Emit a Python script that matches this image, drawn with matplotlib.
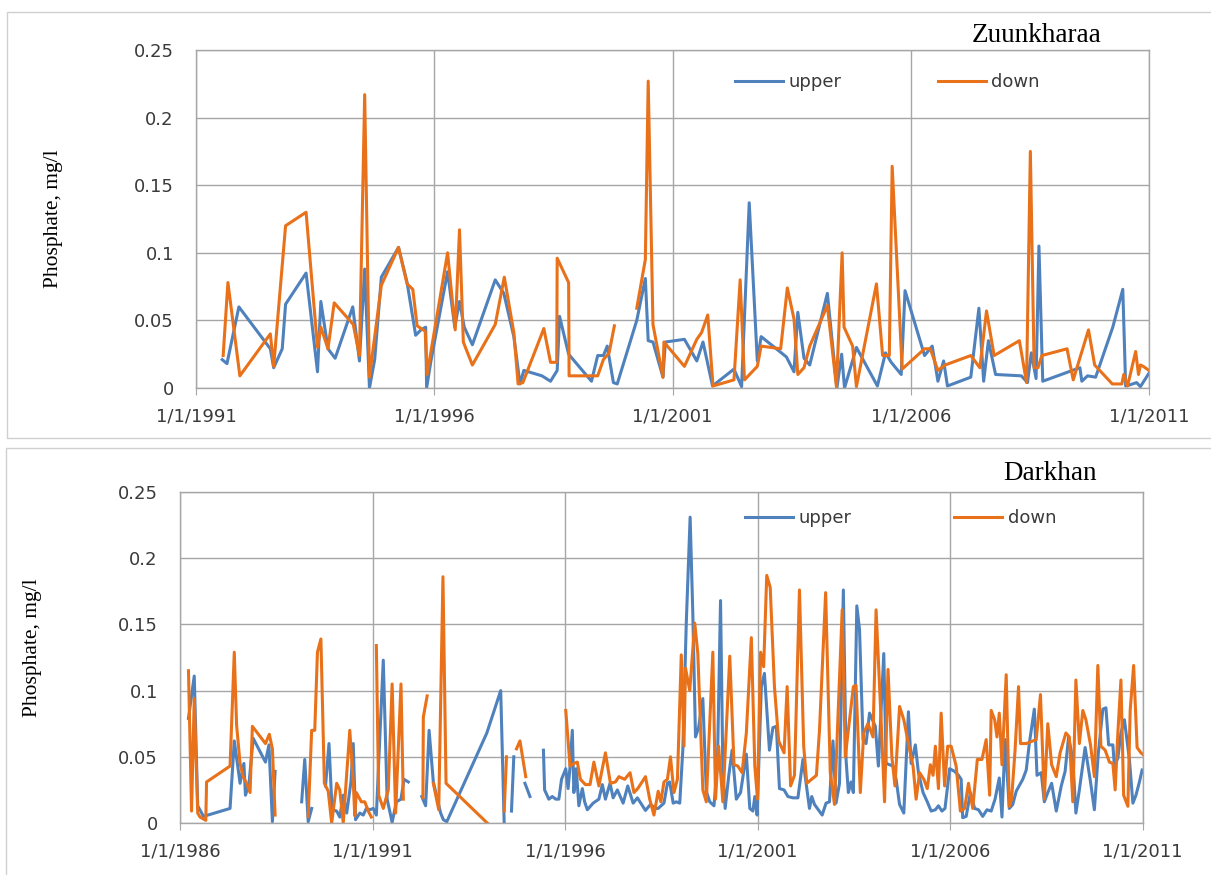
import numpy as np
import matplotlib
matplotlib.use("Agg")
import matplotlib.pyplot as plt
from matplotlib.patches import Rectangle

nan = np.nan

# Zuunkharaa (decimal year, mg/l)
zu_up_x = [1991.55, 1991.65, 1991.9, 1992.56, 1992.63, 1992.81, 1992.88, 1993.31, 1993.55, 1993.62,
           1993.77, 1993.92, 1994.29, 1994.43, 1994.54, 1994.64, 1994.75, 1994.89, 1995.25, 1995.43,
           1995.61, 1995.72, 1995.82, 1995.84, 1995.93, 1996.28, 1996.43, 1996.53, 1996.63, 1996.8,
           1997.28, 1997.46, 1997.67, 1997.8, 1997.88, 1998.26, 1998.44, 1998.58, 1998.63, 1998.82,
           1999.3, 1999.43, 1999.55, 1999.63, 1999.76, 1999.84, 2000.25, 2000.43, 2000.49, 2000.59,
           2000.8, 2000.85, 2001.25, 2001.51, 2001.64, 2001.84, 2002.29, 2002.45, 2002.61, 2002.78,
           2002.86, 2003.39, 2003.55, 2003.63, 2003.76, 2003.88, 2004.25, 2004.45, 2004.55, 2004.61,
           2004.86, 2005.3, 2005.47, 2005.59, 2005.8, 2005.88, 2006.29, 2006.45, 2006.57, 2006.69,
           2006.77, 2007.26, 2007.43, 2007.53, 2007.63, 2007.78, 2008.32, 2008.45, 2008.53, 2008.63,
           2008.69, 2008.77, 2009.47, 2009.55, 2009.59, 2009.71, 2009.88, 2010.24, 2010.45, 2010.51,
           2010.57, 2010.74, 2010.82, 2011.0]
zu_up_y = [0.021, 0.018, 0.060, 0.029, 0.015, 0.029, 0.062, 0.085, 0.012, 0.064,
           0.029, 0.022, 0.060, 0.020, 0.088, 0.0, 0.021, 0.082, 0.104, 0.078,
           0.039, 0.043, 0.045, 0.0, 0.020, 0.086, 0.045, 0.064, 0.045, 0.032,
           0.080, 0.070, 0.038, 0.003, 0.013, 0.009, 0.005, 0.013, 0.053, 0.025,
           0.005, 0.024, 0.024, 0.031, 0.004, 0.003, 0.050, 0.081, 0.035, 0.034,
           0.008, 0.034, 0.036, 0.020, 0.034, 0.0015, 0.014, 0.001, 0.137, 0.020,
           0.038, 0.023, 0.012, 0.056, 0.022, 0.017, 0.070, 0.0, 0.025, 0.0,
           0.030, 0.0015, 0.026, 0.019, 0.010, 0.072, 0.024, 0.031, 0.005, 0.020,
           0.0015, 0.008, 0.059, 0.005, 0.035, 0.010, 0.009, 0.004, 0.026, 0.007,
           0.105, 0.005, 0.014, 0.015, 0.005, 0.009, 0.008, 0.045, 0.073, 0.0015,
           0.002, 0.004, 0.001, 0.011]

zu_dn_x = [1991.57, 1991.67, 1991.92, 1992.56, 1992.63, 1992.88, 1993.31, 1993.55, 1993.62, 1993.77,
           1993.9, 1994.3, 1994.43, 1994.54, 1994.64, 1994.89, 1995.25, 1995.43, 1995.55, 1995.64,
           1995.81, 1995.85, 1996.28, 1996.44, 1996.53, 1996.61, 1996.8, 1997.28, 1997.47, 1997.67,
           1997.76, 1997.86, 1998.3, 1998.44, 1998.57, 1998.58, 1998.82, 1998.83, 1999.43, 1999.55,
           1999.67, 1999.78, 1999.9, 2000.25, 2000.43, 2000.49, 2000.59, 2000.8, 2000.82, 2001.25,
           2001.51, 2001.61, 2001.74, 2001.85, 2002.29, 2002.42, 2002.51, 2002.78, 2002.86, 2003.27,
           2003.41, 2003.55, 2003.63, 2003.76, 2003.88, 2004.25, 2004.44, 2004.56, 2004.6, 2004.78,
           2004.86, 2005.28, 2005.41, 2005.55, 2005.61, 2005.82, 2006.29, 2006.41, 2006.57, 2006.72,
           2007.26, 2007.45, 2007.59, 2007.75, 2008.28, 2008.43, 2008.51, 2008.59, 2008.67, 2008.75,
           2009.28, 2009.41, 2009.73, 2009.86, 2010.23, 2010.43, 2010.47, 2010.55, 2010.72, 2010.78,
           2010.82, 2010.88, 2011.0]
zu_dn_y = [0.024, 0.078, 0.009, 0.040, 0.016, 0.120, 0.130, 0.030, 0.045, 0.029,
           0.063, 0.047, 0.024, 0.217, 0.008, 0.076, 0.104, 0.077, 0.073, 0.046,
           0.042, 0.010, 0.100, 0.043, 0.117, 0.034, 0.017, 0.047, 0.082, 0.041,
           0.003, 0.004, 0.044, 0.019, 0.019, 0.096, 0.078, 0.009, 0.009, 0.021,
           0.026, 0.046, nan, 0.059, 0.095, 0.227, 0.047, 0.008, 0.034, 0.016,
           0.036, 0.041, 0.054, 0.0015, 0.006, 0.080, 0.006, 0.016, 0.031, 0.029,
           0.074, 0.051, 0.010, 0.015, 0.031, 0.061, 0.001, 0.100, 0.045, 0.031,
           0.001, 0.077, 0.024, 0.024, 0.164, 0.014, 0.029, 0.029, 0.013, 0.017,
           0.024, 0.015, 0.057, 0.024, 0.035, 0.004, 0.175, 0.015, 0.015, 0.024,
           0.029, 0.006, 0.043, 0.017, 0.003, 0.003, 0.010, 0.0015, 0.027, 0.010,
           0.017, 0.016, 0.013]

# Darkhan (decimal year, mg/l), nan = no sample
dk_up_x = [1986.22, 1986.37, 1986.46, 1986.61, 1987.30, 1987.41, 1987.56, 1987.66, 1987.70, 1987.79,
           1987.90, 1988.22, 1988.31, 1988.40, 1988.47, 1988.8,
           1989.16, 1989.24, 1989.33, 1989.42, 1989.6,
           1989.78, 1989.87, 1989.95, 1990.07, 1990.15, 1990.24, 1990.33, 1990.44, 1990.50, 1990.56,
           1990.67, 1990.76, 1990.84, 1990.93, 1991.02, 1991.10, 1991.28, 1991.38, 1991.51, 1991.62,
           1991.74, 1991.82, 1991.93, 1992.1,
           1992.28, 1992.38, 1992.47, 1992.58, 1992.77, 1992.84, 1992.93, 1993.97, 1994.33, 1994.42,
           1994.5, 1994.61, 1994.67, 1994.8, 1994.96, 1995.09, 1995.3,
           1995.44, 1995.47, 1995.58, 1995.67, 1995.76, 1995.84, 1995.91, 1996.02, 1996.08, 1996.13,
           1996.19, 1996.23, 1996.29, 1996.36, 1996.45, 1996.51, 1996.58, 1996.73, 1996.88, 1996.97,
           1997.05, 1997.17, 1997.25, 1997.36, 1997.51, 1997.63, 1997.77, 1997.88, 1998.09, 1998.22,
           1998.35, 1998.42, 1998.57, 1998.66, 1998.72, 1998.81, 1998.89, 1998.98, 1999.06, 1999.15,
           1999.25, 1999.32, 1999.39, 1999.47, 1999.58, 1999.67, 1999.76, 1999.87, 1999.96, 2000.04,
           2000.10, 2000.16, 2000.25, 2000.34, 2000.45, 2000.56, 2000.71, 2000.80, 2000.88, 2000.93,
           2000.99, 2001.10, 2001.18, 2001.31, 2001.40, 2001.49, 2001.57, 2001.69, 2001.79, 2001.92,
           2002.05, 2002.18, 2002.35, 2002.41, 2002.48, 2002.68, 2002.78, 2002.87, 2002.96, 2003.04,
           2003.13, 2003.23, 2003.30, 2003.36, 2003.43, 2003.49, 2003.58, 2003.65, 2003.74, 2003.82,
           2003.91, 2004.06, 2004.14, 2004.28, 2004.34, 2004.52, 2004.60, 2004.69, 2004.80, 2004.92,
           2004.99, 2005.10, 2005.18, 2005.30, 2005.41, 2005.51, 2005.62, 2005.70, 2005.79, 2005.87,
           2005.99, 2006.12, 2006.22, 2006.29, 2006.33, 2006.42, 2006.53, 2006.64, 2006.74, 2006.85,
           2006.96, 2007.07, 2007.17, 2007.28, 2007.35, 2007.43, 2007.54, 2007.63, 2007.72, 2007.89,
           2007.98, 2008.06, 2008.19, 2008.26, 2008.37, 2008.45, 2008.54, 2008.64, 2008.76, 2008.89,
           2008.99, 2009.08, 2009.19, 2009.27, 2009.36, 2009.51, 2009.65, 2009.75, 2009.85, 2009.97,
           2010.05, 2010.12, 2010.23, 2010.27, 2010.36, 2010.44, 2010.53, 2010.66, 2010.75, 2010.83,
           2010.92, 2010.99]
dk_up_y = [0.079, 0.111, 0.013, 0.005, 0.011, 0.062, 0.030, 0.045, 0.021, 0.029,
           0.064, 0.046, 0.059, 0.001, 0.039, nan,
           0.016, 0.048, 0.001, 0.011, nan,
           0.028, 0.060, 0.010, 0.009, 0.0045, 0.021, 0.0075, 0.031, 0.060, 0.0025,
           0.0075, 0.006, 0.011, 0.010, 0.011, 0.006, 0.123, 0.018, 0.0005, 0.016,
           0.018, 0.033, 0.031, nan,
           0.020, 0.013, 0.070, 0.031, 0.0075, 0.0025, 0.001, 0.068, 0.100, 0.0,
           nan, 0.009, 0.050, nan, 0.030, 0.020, nan,
           0.055, 0.025, 0.018, 0.020, 0.018, 0.018, 0.033, 0.041, 0.026, 0.042,
           0.070, 0.023, 0.041, 0.013, 0.026, 0.016, 0.010, 0.015, 0.018, 0.029,
           0.018, 0.030, 0.019, 0.025, 0.015, 0.028, 0.015, 0.019, 0.0095, 0.014,
           0.011, 0.011, 0.015, 0.030, 0.031, 0.015, 0.016, 0.015, 0.055, 0.151,
           0.231, 0.158, 0.065, 0.072, 0.094, 0.024, 0.016, 0.013, 0.046, 0.168,
           0.040, 0.011, 0.035, 0.055, 0.018, 0.023, 0.052, 0.011, 0.009, 0.020,
           0.006, 0.103, 0.113, 0.055, 0.072, 0.073, 0.026, 0.025, 0.020, 0.019,
           0.019, 0.048, 0.011, 0.020, 0.014, 0.006, 0.015, 0.016, 0.062, 0.015,
           0.030, 0.176, 0.048, 0.023, 0.031, 0.023, 0.164, 0.146, 0.063, 0.060,
           0.083, 0.073, 0.043, 0.128, 0.045, 0.043, 0.033, 0.014, 0.0075, 0.084,
           0.045, 0.059, 0.038, 0.023, 0.016, 0.009, 0.010, 0.013, 0.009, 0.011,
           0.041, 0.039, 0.036, 0.033, 0.004, 0.005, 0.023, 0.011, 0.010, 0.005,
           0.010, 0.009, 0.018, 0.034, 0.0045, 0.063, 0.011, 0.014, 0.024, 0.033,
           0.040, 0.060, 0.086, 0.036, 0.038, 0.016, 0.023, 0.030, 0.009, 0.028,
           0.039, 0.065, 0.048, 0.0075, 0.025, 0.057, 0.031, 0.010, 0.052, 0.086,
           0.087, 0.059, 0.059, 0.043, 0.049, 0.068, 0.078, 0.048, 0.015, 0.021,
           0.031, 0.040]

dk_dn_x = [1986.22, 1986.30, 1986.37, 1986.46, 1986.52, 1986.67, 1986.69, 1987.30, 1987.41, 1987.47,
           1987.56, 1987.64, 1987.73, 1987.82, 1987.88, 1988.22, 1988.32, 1988.40, 1988.47, 1988.9,
           1989.33, 1989.42, 1989.50, 1989.57, 1989.66, 1989.75, 1989.85, 1989.94, 1990.07, 1990.15,
           1990.24, 1990.41, 1990.50, 1990.54, 1990.58, 1990.71, 1990.80, 1990.89, 1990.97, 1991.03,
           1991.10, 1991.16, 1991.28, 1991.41, 1991.51, 1991.60, 1991.74, 1991.80, 1992.0,
           1992.31, 1992.32, 1992.42, 1992.5,
           1992.58, 1992.72, 1992.83, 1992.91, 1993.98, 1994.2,
           1994.42, 1994.48, 1994.6,
           1994.74, 1994.83, 1994.98, 1995.5,
           1996.02, 1996.13, 1996.23, 1996.32, 1996.40, 1996.53, 1996.65, 1996.75, 1996.88, 1997.05,
           1997.18, 1997.31, 1997.40, 1997.55, 1997.69, 1997.79, 1997.89, 1998.09, 1998.20, 1998.31,
           1998.42, 1998.49, 1998.57, 1998.66, 1998.74, 1998.83, 1998.92, 1999.02, 1999.09, 1999.13,
           1999.24, 1999.37, 1999.45, 1999.58, 1999.67, 1999.84, 1999.91, 1999.99, 2000.10, 2000.28,
           2000.39, 2000.49, 2000.60, 2000.71, 2000.84, 2000.93, 2001.00, 2001.08, 2001.16, 2001.24,
           2001.33, 2001.44, 2001.55, 2001.69, 2001.77, 2001.86, 2001.96, 2002.09, 2002.20, 2002.28,
           2002.53, 2002.61, 2002.77, 2002.89, 2003.00, 2003.20, 2003.28, 2003.49, 2003.56, 2003.67,
           2003.76, 2003.87, 2004.00, 2004.08, 2004.21, 2004.30, 2004.39, 2004.49, 2004.57, 2004.69,
           2004.80, 2004.92, 2005.04, 2005.12, 2005.21, 2005.32, 2005.41, 2005.49, 2005.56, 2005.62,
           2005.70, 2005.77, 2005.86, 2005.94, 2006.03, 2006.16, 2006.27, 2006.38, 2006.48, 2006.59,
           2006.71, 2006.83, 2006.94, 2007.03, 2007.07, 2007.16, 2007.22, 2007.28, 2007.35, 2007.46,
           2007.54, 2007.60, 2007.69, 2007.78, 2007.83, 2007.98, 2008.24, 2008.35, 2008.45, 2008.54,
           2008.64, 2008.76, 2008.86, 2009.01, 2009.10, 2009.19, 2009.27, 2009.36, 2009.45, 2009.53,
           2009.65, 2009.75, 2009.84, 2009.92, 2010.03, 2010.14, 2010.23, 2010.29, 2010.36, 2010.44,
           2010.51, 2010.62, 2010.68, 2010.77, 2010.86, 2010.96, 2011.00]
dk_dn_y = [0.115, 0.009, 0.094, 0.0075, 0.0045, 0.002, 0.031, 0.043, 0.129, 0.074,
           0.045, 0.035, 0.030, 0.023, 0.073, 0.060, 0.067, 0.056, 0.006, nan,
           0.005, 0.070, 0.070, 0.129, 0.139, 0.030, 0.024, 0.0, 0.030, 0.025,
           0.0, 0.070, 0.031, 0.0055, 0.023, 0.016, 0.016, 0.009, 0.0045, nan,
           0.134, 0.021, 0.011, 0.025, 0.105, 0.0075, 0.105, 0.018, nan,
           0.019, 0.080, 0.096, nan,
           0.030, 0.010, 0.186, 0.030, 0.0, nan,
           0.009, 0.050, nan,
           0.056, 0.062, 0.035, nan,
           0.085, 0.043, 0.045, 0.046, 0.033, 0.029, 0.029, 0.046, 0.028, 0.053,
           0.030, 0.031, 0.035, 0.033, 0.038, 0.023, 0.026, 0.035, 0.018, 0.006,
           0.024, 0.016, 0.031, 0.033, 0.050, 0.023, 0.033, 0.127, 0.058, 0.117,
           0.100, 0.151, 0.128, 0.025, 0.016, 0.129, 0.018, 0.058, 0.016, 0.126,
           0.044, 0.043, 0.038, 0.068, 0.140, 0.043, 0.018, 0.129, 0.118, 0.187,
           0.178, 0.103, 0.062, 0.053, 0.103, 0.028, 0.036, 0.176, 0.058, 0.030,
           0.036, 0.070, 0.174, 0.038, 0.014, 0.161, 0.050, 0.103, 0.104, 0.023,
           0.068, 0.075, 0.065, 0.161, 0.078, 0.016, 0.116, 0.050, 0.028, 0.088,
           0.078, 0.060, 0.043, 0.018, 0.038, 0.033, 0.026, 0.044, 0.036, 0.058,
           0.026, 0.083, 0.028, 0.058, 0.058, 0.043, 0.009, 0.011, 0.030, 0.011,
           0.048, 0.048, 0.063, 0.021, 0.085, 0.078, 0.065, 0.083, 0.044, 0.112,
           0.0126, 0.018, 0.055, 0.103, 0.060, 0.060, 0.063, 0.097, 0.018, 0.075,
           0.044, 0.035, 0.053, 0.068, 0.065, 0.016, 0.108, 0.060, 0.085, 0.078,
           0.059, 0.035, 0.119, 0.058, 0.055, 0.046, 0.045, 0.025, 0.068, 0.108,
           0.021, 0.0126, 0.085, 0.119, 0.057, 0.053, 0.052]

BLUE = '#4f81bd'
ORANGE = '#e8711a'
GRID = '#a6a6a6'
TXT = '#3a3a3a'

W, H = 1211, 875
fig = plt.figure(figsize=(W / 100, H / 100), dpi=100)

# panel frames (light gray boxes around each chart)
fig.patches.append(Rectangle((7 / W, 1 - 438 / H), 1.0, (438 - 12) / H, transform=fig.transFigure,
                             fill=False, edgecolor='#d0d0d0', lw=1.0))
fig.patches.append(Rectangle((6 / W, -0.01), 1.0, 1 - 448 / H + 0.01, transform=fig.transFigure,
                             fill=False, edgecolor='#d0d0d0', lw=1.0))


def style_axes(ax, x0, x1):
    ax.set_xlim(x0, x1)
    ax.set_ylim(0, 0.25)
    years = list(range(x0, x1 + 1, 5))
    ax.set_xticks(years)
    ax.set_xticklabels([f'1/1/{y}' for y in years])
    ax.set_yticks([0, 0.05, 0.1, 0.15, 0.2, 0.25])
    ax.set_yticklabels(['0', '0.05', '0.1', '0.15', '0.2', '0.25'])
    ax.grid(True, color=GRID, lw=1.0)
    ax.set_axisbelow(True)
    for s in ax.spines.values():
        s.set_color(GRID)
        s.set_linewidth(1.0)
    ax.tick_params(axis='x', length=5, color=GRID, pad=9, labelsize=13, labelcolor=TXT)
    ax.tick_params(axis='y', length=0, pad=16, labelsize=13, labelcolor=TXT)
    ax.set_ylabel('Phosphate, mg/l', family='Liberation Serif', fontsize=15.5, color='black')


# top: Zuunkharaa
ax1 = fig.add_axes([196 / W, 1 - 388 / H, (1149 - 196) / W, (388 - 50) / H])
ax1.plot(zu_up_x, zu_up_y, color=BLUE, lw=2.2, label='upper')
ax1.plot(zu_dn_x, zu_dn_y, color=ORANGE, lw=2.2, label='down')
style_axes(ax1, 1991, 2011)
ax1.yaxis.set_label_coords(-0.1396, 0.5)
ax1.legend(ncol=2, frameon=False, loc='center left', bbox_to_anchor=(0.566, 0.905),
           fontsize=13, handlelength=2.66, handletextpad=0.3, columnspacing=5.3,
           borderpad=0, borderaxespad=0, labelcolor=TXT)
fig.text(1037 / W, 1 - 35 / H, 'Zuunkharaa', family='Liberation Serif', fontsize=19.5,
         ha='center', va='center')

# bottom: Darkhan
ax2 = fig.add_axes([180 / W, 1 - 823 / H, (1142.5 - 180) / W, (823 - 492) / H])
ax2.plot(dk_up_x, dk_up_y, color=BLUE, lw=2.2, label='upper')
ax2.plot(dk_dn_x, dk_dn_y, color=ORANGE, lw=2.2, label='down')
style_axes(ax2, 1986, 2011)
ax2.yaxis.set_label_coords(-0.1434, 0.53)
ax2.legend(ncol=2, frameon=False, loc='center left', bbox_to_anchor=(0.587, 0.92),
           fontsize=13, handlelength=2.66, handletextpad=0.3, columnspacing=5.7,
           borderpad=0, borderaxespad=0, labelcolor=TXT)
fig.text(1050 / W, 1 - 473 / H, 'Darkhan', family='Liberation Serif', fontsize=19.5,
         ha='center', va='center')

fig.savefig('out.png', dpi=100)
